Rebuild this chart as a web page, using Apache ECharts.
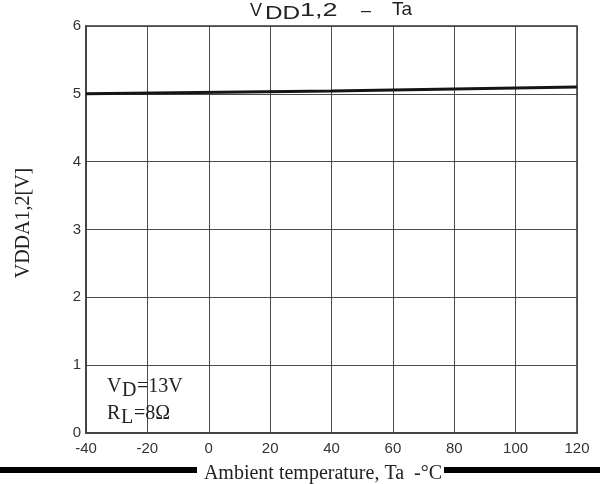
<!DOCTYPE html>
<html>
<head>
<meta charset="utf-8">
<script src="https://cdn.jsdelivr.net/npm/echarts@6/dist/echarts.min.js"></script>
<style>
html,body{margin:0;padding:0;background:#fff;}
#chart{width:600px;height:484px;}
</style>
</head>
<body>
<div id="chart"></div>
<script>
// Data
const temperatures = [-40, 40, 120];
const vddValues = [5.0, 5.04, 5.1];
const xTicks = {min: -40, max: 120, interval: 20};
const yTicks = {min: 0, max: 6, interval: 1};

const chart = echarts.init(document.getElementById('chart'), null, {renderer: 'canvas'});
const sans = 'Liberation Sans, Arial, sans-serif';
const serif = 'Liberation Serif, Times New Roman, serif';

const lineData = temperatures.map((t, i) => [t, vddValues[i]]);

chart.setOption({
  animation: false,
  backgroundColor: '#fff',
  grid: {left: 86, right: 23, top: 26, bottom: 51, show: true, borderColor: '#333', borderWidth: 1.5},
  xAxis: {
    type: 'value', min: xTicks.min, max: xTicks.max, interval: xTicks.interval,
    axisLine: {show: true, onZero: false, lineStyle: {color: '#444', width: 2}},
    axisTick: {show: false},
    splitLine: {show: true, lineStyle: {color: '#4a4a4a', width: 1}},
    axisLabel: {color: '#333', fontSize: 15, fontFamily: sans, margin: 8}
  },
  yAxis: {
    type: 'value', min: yTicks.min, max: yTicks.max, interval: yTicks.interval,
    axisLine: {show: true, onZero: false, lineStyle: {color: '#444', width: 2}},
    axisTick: {show: false},
    splitLine: {show: true, lineStyle: {color: '#4a4a4a', width: 1}},
    axisLabel: {color: '#333', fontSize: 15, fontFamily: sans, margin: 5}
  },
  series: [{
    type: 'line', data: lineData, symbol: 'none', smooth: false,
    lineStyle: {color: '#151515', width: 3}, z: 5
  }],
  graphic: [
    // title  VDD1,2 – Ta
    {type: 'text', x: 250, y: 11, style: {text: 'V', font: '18px ' + sans, fill: '#222', verticalAlign: 'middle', align: 'left'}},
    {type: 'text', x: 265, y: 14.5, scaleX: 1.35, originX: 0, style: {text: 'DD', font: '18px ' + sans, fill: '#222', verticalAlign: 'middle', align: 'left'}},
    {type: 'text', x: 300, y: 11, scaleX: 1.5, originX: 0, style: {text: '1,2', font: '18px ' + sans, fill: '#222', verticalAlign: 'middle', align: 'left'}},
    {type: 'text', x: 366, y: 11, style: {text: '\u2013', font: '18px ' + sans, fill: '#222', verticalAlign: 'middle', align: 'center'}},
    {type: 'text', x: 392, y: 10, style: {text: 'Ta', font: '19px ' + sans, fill: '#222', verticalAlign: 'middle', align: 'left'}},
    // y axis name
    {type: 'text', x: 24, y: 223, rotation: Math.PI / 2, style: {text: 'VDDA1,2[V]', font: '20px ' + serif, fill: '#222', verticalAlign: 'middle', align: 'center'}},
    // annotation
    {type: 'text', x: 107, y: 387, style: {text: 'V', font: '20px ' + serif, fill: '#222', verticalAlign: 'middle', align: 'left'}, z: 10},
    {type: 'text', x: 122, y: 391, style: {text: 'D', font: '20px ' + serif, fill: '#222', verticalAlign: 'middle', align: 'left'}, z: 10},
    {type: 'text', x: 137, y: 387, style: {text: '=13V', font: '20px ' + serif, fill: '#222', verticalAlign: 'middle', align: 'left'}, z: 10},
    {type: 'text', x: 107, y: 414, style: {text: 'R', font: '20px ' + serif, fill: '#222', verticalAlign: 'middle', align: 'left'}, z: 10},
    {type: 'text', x: 121, y: 418, style: {text: 'L', font: '20px ' + serif, fill: '#222', verticalAlign: 'middle', align: 'left'}, z: 10},
    {type: 'text', x: 134, y: 414, style: {text: '=8\u03A9', font: '20px ' + serif, fill: '#222', verticalAlign: 'middle', align: 'left'}, z: 10},
    // x axis name
    {type: 'text', x: 323, y: 474, style: {text: 'Ambient temperature, Ta  -\u00B0C', font: '20px ' + serif, fill: '#222', verticalAlign: 'middle', align: 'center'}},
    // black bars at bottom
    {type: 'rect', shape: {x: 0, y: 467, width: 197, height: 6}, style: {fill: '#000'}, z: 20},
    {type: 'rect', shape: {x: 444, y: 467, width: 156, height: 6}, style: {fill: '#000'}, z: 20}
  ]
});
</script>
</body>
</html>
